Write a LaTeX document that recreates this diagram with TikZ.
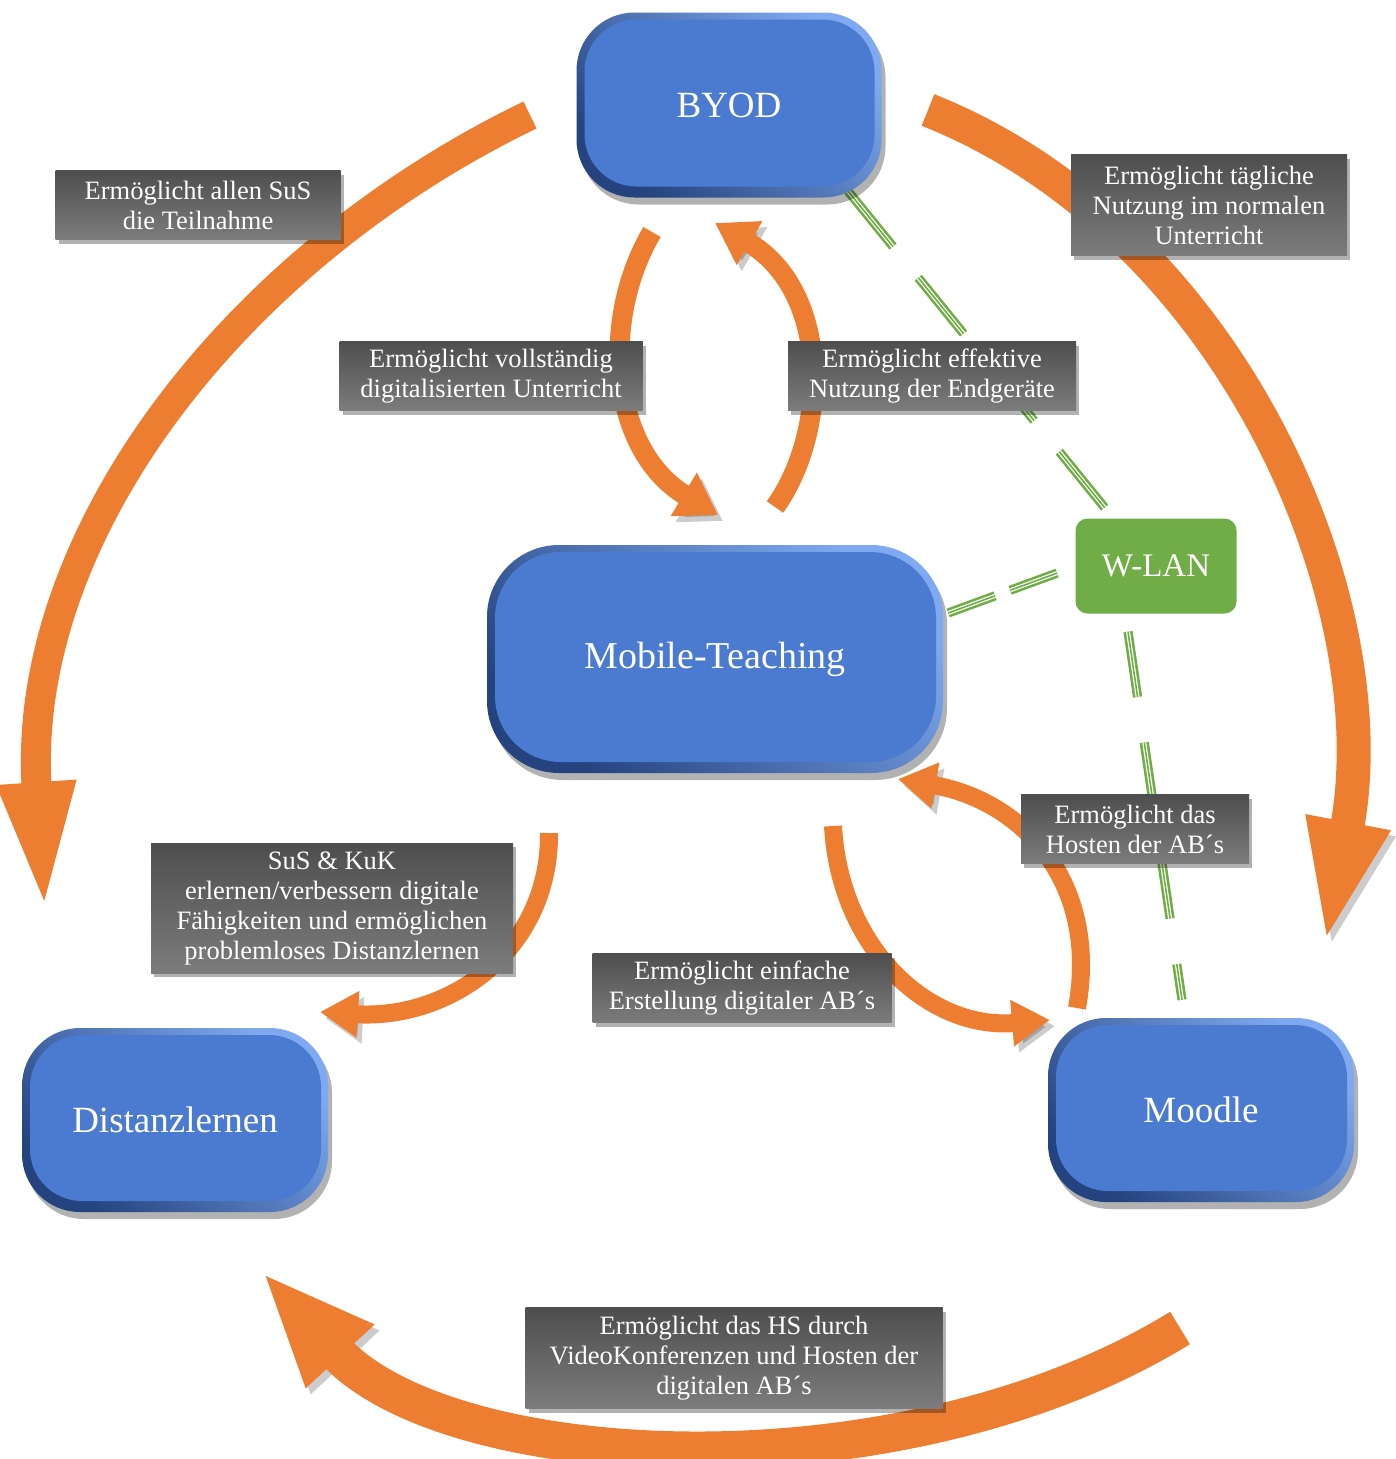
\documentclass[tikz,border=0pt]{standalone}
\usepackage{fontspec}
\setmainfont{Liberation Serif}
\usetikzlibrary{arrows.meta,shadows,calc,backgrounds}
\definecolor{orangeA}{HTML}{ED7D31}
\definecolor{blueA}{HTML}{4A7BD0}
\definecolor{blueDark}{HTML}{24437F}
\definecolor{blueLight}{HTML}{7FA9F0}
\definecolor{greenA}{HTML}{70AD47}
\definecolor{labTop}{HTML}{4E4E4E}
\definecolor{labBot}{HTML}{7C7C7C}
\begin{document}
\begin{tikzpicture}[x=1pt,y=-1pt,
  bluebox/.style 2 args={rounded corners=#1, text=white,
    top color=blueLight, bottom color=blueDark, shading angle=-45,
    drop shadow={shadow xshift=4pt, shadow yshift=-7pt, opacity=0.3, fill=black},
    path picture={\fill[blueA, rounded corners=#2]
      ($(path picture bounding box.north west)+(8,7)$) rectangle
      ($(path picture bounding box.south east)+(-7,-11)$);}},
  lbl/.style={text=white, font=\fontsize{26.5}{30}\selectfont, align=center,
    inner sep=0pt, top color=labTop, bottom color=labBot,
    drop shadow={shadow xshift=3pt, shadow yshift=-4pt, opacity=0.3, fill=black}},
  arc/.style={draw=orangeA, line width=#1, line cap=butt,
    preaction={draw=black, draw opacity=0.2, fill opacity=0.2,
      transform canvas={shift={(5pt,-6pt)}}}},
  wifi/.style={draw=greenA, line width=2.6pt, double=white, double distance=4pt, line cap=butt,
    postaction={draw=greenA, line width=1.6pt}},
]
\useasboundingbox (0,0) rectangle (1395,1459);

% nodes
\node[bluebox={58pt}{52pt}, minimum width=305pt, minimum height=185pt,
  font=\fontsize{37}{40}\selectfont] (byod) at (729,105) {BYOD};
\node[bluebox={72pt}{66pt}, minimum width=456pt, minimum height=228pt,
  font=\fontsize{38}{40}\selectfont] (mobile) at (715,659) {Mobile-Teaching};
\node[bluebox={58pt}{52pt}, minimum width=306pt, minimum height=184pt,
  font=\fontsize{37}{40}\selectfont] (distanz) at (175,1120) {Distanzlernen};
\node[bluebox={58pt}{52pt}, minimum width=306pt, minimum height=184pt,
  font=\fontsize{37}{40}\selectfont] (moodle) at (1201,1110) {Moodle};
\node[fill=greenA, rounded corners=12pt, text=white, minimum width=161pt, minimum height=95pt,
  font=\fontsize{33}{36}\selectfont] (wlan) at (1156,566) {W-LAN};

% labels
\node[lbl, minimum width=285pt, minimum height=69pt] (l1) at (198,205) {Ermöglicht allen SuS\\die Teilnahme};
\node[lbl, minimum width=276pt, minimum height=101pt] (l2) at (1209,205) {Ermöglicht tägliche\\Nutzung im normalen\\Unterricht};
\node[lbl, minimum width=303pt, minimum height=69pt] (l3) at (491,376) {Ermöglicht vollständig\\digitalisierten Unterricht};
\node[lbl, minimum width=288pt, minimum height=69pt] (l4) at (932,376) {Ermöglicht effektive\\Nutzung der Endgeräte};
\node[lbl, minimum width=228pt, minimum height=69pt] (l5) at (1135,829) {Ermöglicht das\\Hosten der AB´s};
\node[lbl, minimum width=362pt, minimum height=130pt] (l6) at (332,908) {SuS \& KuK\\erlernen/verbessern digitale\\Fähigkeiten und ermöglichen\\problemloses Distanzlernen};
\node[lbl, minimum width=299pt, minimum height=69pt] (l7) at (742,988) {Ermöglicht einfache\\Erstellung digitaler AB´s};
\node[lbl, minimum width=417pt, minimum height=101pt] (l8) at (734,1358) {Ermöglicht das HS durch\\VideoKonferenzen und Hosten der\\digitalen AB´s};

\begin{scope}[on background layer]
\fill[white] (0,0) rectangle (1395,1459);
% green triple dashed links
\draw[wifi, dash pattern=on 72pt off 40pt] ($(byod.south east)+(-34,-7)$) -- ($(wlan.north west)+(38,0)$);
\draw[wifi, dash pattern=on 50pt off 16pt] ($(mobile.east)+(5,-46)$) -- ($(wlan.west)+(-18,7)$);
\draw[wifi, dash pattern=on 66pt off 46pt] ($(wlan.south)+(-28,18)$) -- ($(moodle.north)+(-19,-18)$);

% big outer arcs
\draw[arc=30pt, -{Triangle[length=130pt,width=70pt]}] (530,115) .. controls (230,260) and (20,540) .. (45,912);
\draw[arc=34pt, -{Triangle[length=125pt,width=76pt]}] (928,110) .. controls (1230,230) and (1390,600) .. (1325,945);
\draw[arc=38pt, -{Triangle[length=115pt,width=84pt]}] (1180,1328) .. controls (900,1500) and (450,1475) .. (262,1272);

% small arcs
\draw[arc=20pt, -{Triangle[length=40pt,width=48pt]}] (652,232) .. controls (600,320) and (610,450) .. (718,515);
\draw[arc=20pt, -{Triangle[length=40pt,width=48pt]}] (775,507) .. controls (830,430) and (830,290) .. (715,223);
\draw[arc=18pt, -{Triangle[length=38pt,width=44pt]}] (833,826) .. controls (840,950) and (930,1030) .. (1050,1020);
\draw[arc=18pt, -{Triangle[length=38pt,width=44pt]}] (1077,1008) .. controls (1100,880) and (1020,800) .. (898,779);
\draw[arc=18pt, -{Triangle[length=38pt,width=44pt]}] (549,833) .. controls (550,950) and (450,1020) .. (320,1012);
\end{scope}
\end{tikzpicture}
\end{document}
